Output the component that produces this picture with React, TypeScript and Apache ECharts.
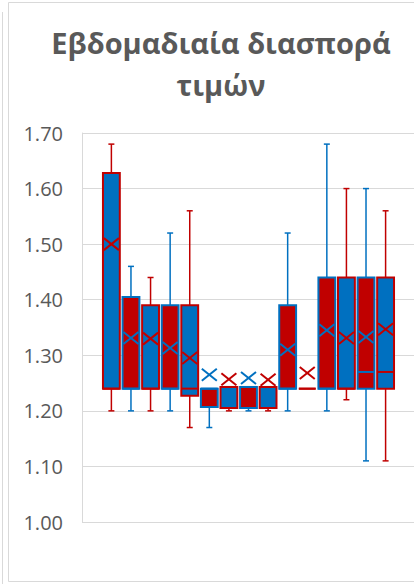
import React, { useEffect, useRef } from "react";
import * as echarts from "echarts";

const boxNames = ["1", "2", "3", "4", "5", "6", "7", "8", "9", "10", "11", "12", "13", "14", "15"];
const whiskerMin = [1.2, 1.2, 1.2, 1.2, 1.17, 1.17, 1.2, 1.2, 1.2, 1.2, 1.24, 1.2, 1.22, 1.11, 1.11];
const q1 = [1.24, 1.24, 1.24, 1.24, 1.227, 1.207, 1.205, 1.205, 1.205, 1.24, 1.24, 1.24, 1.24, 1.24, 1.24];
const median = [1.24, 1.24, 1.24, 1.24, 1.24, 1.24, 1.243, 1.243, 1.243, 1.24, 1.24, 1.24, 1.24, 1.27, 1.27];
const q3 = [1.628, 1.405, 1.39, 1.39, 1.39, 1.24, 1.243, 1.243, 1.243, 1.39, 1.24, 1.44, 1.44, 1.44, 1.44];
const whiskerMax = [1.68, 1.46, 1.44, 1.52, 1.56, 1.24, 1.243, 1.243, 1.243, 1.52, 1.24, 1.68, 1.6, 1.6, 1.56];
const means = [1.5, 1.331, 1.33, 1.313, 1.295, 1.265, 1.257, 1.259, 1.256, 1.31, 1.268, 1.345, 1.331, 1.333, 1.347];
const yTicks = [1.0, 1.1, 1.2, 1.3, 1.4, 1.5, 1.6, 1.7];

const titleText = "Εβδομαδιαία διασπορά\nτιμών";

const BLUE = "#0070C0";
const RED = "#C00000";

export default function App() {
  const ref = useRef<HTMLDivElement>(null);
  useEffect(() => {
    if (!ref.current) return;
    const chart = echarts.init(ref.current, undefined, { renderer: "svg" });
    const data = boxNames.map((_, i) => [i, whiskerMin[i], q1[i], median[i], q3[i], whiskerMax[i], means[i]]);
    const renderItem = (params: any, api: any) => {
      const i = api.value(0);
      const odd = i % 2 === 0;
      const fill = odd ? BLUE : RED;
      const stroke = odd ? RED : BLUE;
      const x = api.coord([i, 1])[0];
      const yMin = api.coord([i, api.value(1)])[1];
      const yQ1 = api.coord([i, api.value(2)])[1];
      const yMed = api.coord([i, api.value(3)])[1];
      const yQ3 = api.coord([i, api.value(4)])[1];
      const yMax = api.coord([i, api.value(5)])[1];
      const yMean = api.coord([i, api.value(6)])[1];
      const unit = api.size([1, 0])[0];
      const w = unit * 0.86;
      const cap = 3;
      const children: any[] = [];
      const ls = { stroke, lineWidth: 1.5 };
      if (yMin - yQ1 > 0.5) {
        children.push({ type: "line", shape: { x1: x, y1: yQ1, x2: x, y2: yMin }, style: ls });
        children.push({ type: "line", shape: { x1: x - cap, y1: yMin, x2: x + cap, y2: yMin }, style: ls });
      }
      if (yQ3 - yMax > 0.5) {
        children.push({ type: "line", shape: { x1: x, y1: yQ3, x2: x, y2: yMax }, style: ls });
        children.push({ type: "line", shape: { x1: x - cap, y1: yMax, x2: x + cap, y2: yMax }, style: ls });
      }
      children.push({
        type: "rect",
        shape: { x: x - w / 2, y: yQ3, width: w, height: Math.max(0, yQ1 - yQ3) },
        style: { fill, stroke, lineWidth: 2 },
      });
      children.push({ type: "line", shape: { x1: x - w / 2, y1: yMed, x2: x + w / 2, y2: yMed }, style: { stroke, lineWidth: 2 } });
      const hx = 7.5;
      const hy = 6;
      const ms = { stroke, lineWidth: 2 };
      children.push({ type: "line", shape: { x1: x - hx, y1: yMean - hy, x2: x + hx, y2: yMean + hy }, style: ms });
      children.push({ type: "line", shape: { x1: x - hx, y1: yMean + hy, x2: x + hx, y2: yMean - hy }, style: ms });
      return { type: "group", children };
    };
    chart.setOption({
      animation: false,
      backgroundColor: "#ffffff",
      grid: { left: 82, right: 0, top: 133, bottom: 62, containLabel: false },
      xAxis: {
        type: "value",
        min: -1.5,
        max: 15.45,
        show: false,
      },
      yAxis: {
        type: "value",
        min: 1.0,
        max: 1.7,
        interval: 0.1,
        axisLine: { show: true, onZero: false, lineStyle: { color: "#D9D9D9", width: 1 } },
        axisTick: { show: false },
        splitLine: { show: true, lineStyle: { color: "#D9D9D9", width: 1 } },
        axisLabel: {
          color: "#595959",
          fontFamily: "Open Sans",
          fontSize: 20,
          margin: 19,
          formatter: (v: number) => {
            const t = yTicks.find((k) => Math.abs(k - v) < 1e-6);
            return (t !== undefined ? t : v).toFixed(2);
          },
        },
      },
      graphic: [
        {
          type: "rect",
          shape: { x: 8.5, y: 2.5, width: 420, height: 579 },
          style: { fill: "none", stroke: "#D9D9D9", lineWidth: 1 },
          silent: true,
        },
        {
          type: "line",
          shape: { x1: 2.5, y1: 12, x2: 2.5, y2: 584 },
          style: { stroke: "#D9D9D9", lineWidth: 1 },
          silent: true,
        },
        {
          type: "text",
          x: 221,
          y: 21,
          style: {
            text: titleText,
            fill: "#595959",
            font: "bold 29px 'Open Sans'",
            textAlign: "center",
            textVerticalAlign: "top",
            lineHeight: 42,
          },
        },
      ],
      series: [
        {
          type: "custom",
          renderItem,
          data,
          encode: { x: 0, y: [1, 2, 3, 4, 5, 6] },
          clip: false,
        },
      ],
    });
    return () => chart.dispose();
  }, []);
  return <div ref={ref} style={{ position: "fixed", left: 0, top: 0, width: 414, height: 584 }} />;
}
